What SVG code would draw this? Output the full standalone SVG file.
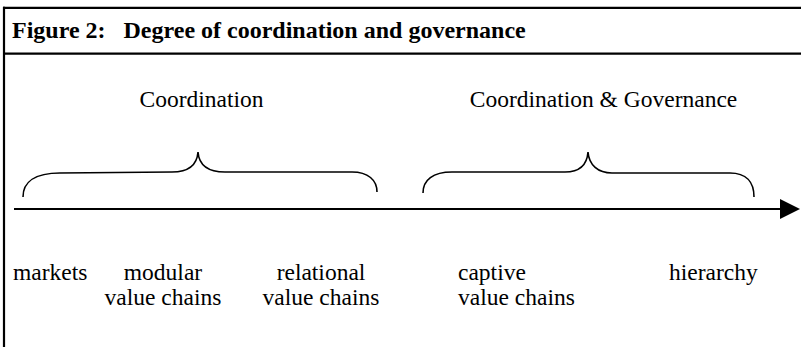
<svg xmlns="http://www.w3.org/2000/svg" width="801" height="347" viewBox="0 0 801 347">
<style>
.frame{stroke:#000;stroke-width:2.2;fill:none}
.brace{stroke:#000;stroke-width:1.6;fill:none}
.t{font-family:"Liberation Serif","Times New Roman",serif;font-size:23.5px;fill:#000}
.title{font-family:"Liberation Serif","Times New Roman",serif;font-size:24px;font-weight:bold;fill:#000}
</style>
<rect width="801" height="347" fill="#fff"/>
<g id="frame">
<line class="frame" x1="3" y1="7.8" x2="801" y2="7.8"/>
<line class="frame" x1="3" y1="53.7" x2="801" y2="53.7"/>
<line class="frame" x1="4" y1="6.7" x2="4" y2="347"/>
<text class="title" x="12" y="38" xml:space="preserve">Figure 2:   Degree of coordination and governance</text>
</g>
<g id="connectors">
<line x1="14" y1="209" x2="782" y2="209" stroke="#000" stroke-width="2"/>
<path d="M780,199 L800,209 L780,219 Z" fill="#000"/>
</g>
<g id="brace-coordination">
<path class="brace" d="M23,197 C23,182 35,173 60,173 L172,172 C188,172 197,165 198,152 C199,165 208,172 225,172 L352,172 C368,172 377,180 377,192"/>
<text class="t" x="201.5" y="107" text-anchor="middle">Coordination</text>
</g>
<g id="brace-governance">
<path class="brace" d="M423,193 C423,180 433,172 452,172 L565,172 C580,172 587,165 588,152 C589,165 598,173 612,173 L730,173 C746,173 754,182 754,197"/>
<text class="t" x="603.5" y="107" text-anchor="middle">Coordination &amp; Governance</text>
</g>
<g id="markets"><text class="t" x="13" y="280">markets</text></g>
<g id="modular"><text class="t" x="163" y="280" text-anchor="middle">modular</text><text class="t" x="163" y="305" text-anchor="middle">value chains</text></g>
<g id="relational"><text class="t" x="321" y="280" text-anchor="middle">relational</text><text class="t" x="321" y="305" text-anchor="middle">value chains</text></g>
<g id="captive"><text class="t" x="458" y="280">captive</text><text class="t" x="458" y="305">value chains</text></g>
<g id="hierarchy"><text class="t" x="669" y="280">hierarchy</text></g>
</svg>
